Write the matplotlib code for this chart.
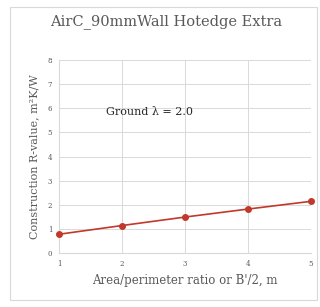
import matplotlib
matplotlib.use("Agg")
import matplotlib.pyplot as plt
from matplotlib.patches import Rectangle

ratio = [1, 2, 3, 4, 5]
r_value = [0.79, 1.15, 1.50, 1.83, 2.15]
title = "AirC_90mmWall Hotedge Extra"
note = "Ground \u03bb = 2.0"

plt.rcParams['font.family'] = ['DejaVu Serif']

fig = plt.figure(figsize=(3.2, 3.07), dpi=100)
ax = fig.add_axes([59.3 / 320, 1 - 253.3 / 307, (310.7 - 59.3) / 320, (253.3 - 60) / 307])

# light frame round the whole chart
fig.patches.append(Rectangle((10 / 320, 7 / 307), 307 / 320, 293 / 307, transform=fig.transFigure,
                             fill=False, edgecolor="#d9d9d9", linewidth=0.8))

ax.plot(ratio, r_value, color="#c0392b", marker="o", markersize=4, linewidth=1.2, clip_on=False, zorder=3)

ax.set_xlim(1, 5)
ax.set_ylim(0, 8)
ax.set_xticks(ratio)
ax.set_yticks(range(0, 9))
ax.grid(True, color="#d9d9d9", linewidth=0.7)
for s in ["top", "right"]:
    ax.spines[s].set_visible(False)
for s in ["left", "bottom"]:
    ax.spines[s].set_color("#d9d9d9")
ax.tick_params(length=0, labelsize=5, colors="#595959", pad=5)

fig.text(166 / 320, 1 - 22 / 307, title, fontsize=10.5, color="#595959", ha="center", va="center")
ax.set_xlabel("Area/perimeter ratio or B'/2, m", fontsize=8.5, color="#595959", labelpad=4)
ax.set_ylabel("Construction R-value, m\u00b2K/W", fontsize=8, color="#595959", labelpad=6)
ax.text(2.43, 5.85, note, fontsize=8, ha="center", va="center", color="#262626")

fig.savefig("out.png", dpi=100)
